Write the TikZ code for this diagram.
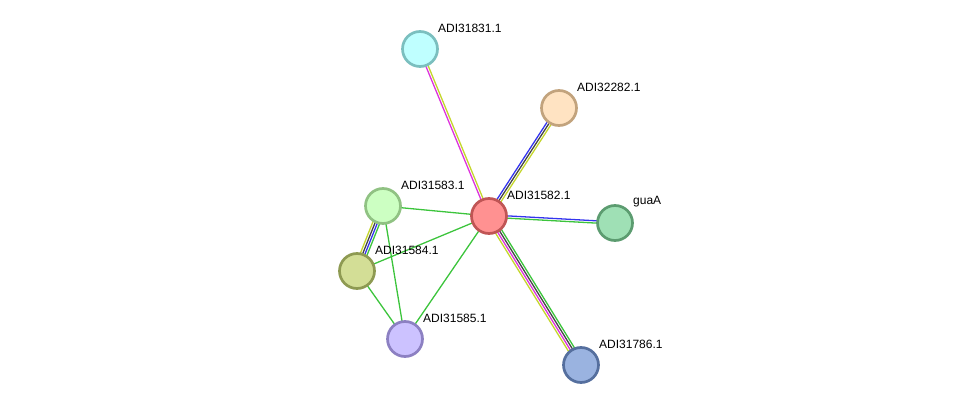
\documentclass[tikz,border=0pt]{standalone}
\usepackage{fontspec}
\setmainfont{Liberation Sans}
\usetikzlibrary{calc,backgrounds}

\definecolor{lnkgreen}{HTML}{3CC43C}
\definecolor{lnkblue}{HTML}{3434EE}
\definecolor{lnkdark}{HTML}{454545}
\definecolor{lnkmagenta}{HTML}{DD33DD}
\definecolor{lnkyellow}{HTML}{C4D62C}

% parallel lines between two proteins, one per evidence colour
\newcommand{\lnk}[3]{%
  \foreach \c [count=\i] in {#3} {\xdef\nlines{\i}}
  \foreach \c [count=\i] in {#3} {
    \pgfmathsetmacro\off{((\nlines+1)/2-\i)*2.3}
    \draw[\c,line width=1.3pt] ($(#1.center)!\off pt!90:(#2.center)$)
      -- ($(#2.center)!\off pt!-90:(#1.center)$);
  }}

\begin{document}
\begin{tikzpicture}[x=1pt,y=-1pt,
    prot/.style={circle,draw,line width=2.7pt,minimum size=35pt,inner sep=0pt},
    lbl/.style={anchor=west,inner sep=0pt,font=\fontsize{12}{14}\selectfont}]

  \useasboundingbox (0,0) rectangle (976,411);

  % Proteins
  \node[prot,fill={rgb,255:red,191;green,255;blue,255},draw={rgb,255:red,123;green,191;blue,191}] (n831) at (420,49) {};
  \node[prot,fill={rgb,255:red,255;green,227;blue,194},draw={rgb,255:red,194;green,163;blue,125}] (n282) at (559,108) {};
  \node[prot,fill={rgb,255:red,255;green,145;blue,145},draw={rgb,255:red,192;green,85;blue,85}] (n582) at (489,216) {};
  \node[prot,fill={rgb,255:red,159;green,224;blue,181},draw={rgb,255:red,92;green,156;blue,112}] (guaA) at (615,223) {};
  \node[prot,fill={rgb,255:red,204;green,255;blue,194},draw={rgb,255:red,144;green,194;blue,131}] (n583) at (383,206) {};
  \node[prot,fill={rgb,255:red,211;green,222;blue,150},draw={rgb,255:red,142;green,154;blue,82}] (n584) at (357,271) {};
  \node[prot,fill={rgb,255:red,204;green,194;blue,255},draw={rgb,255:red,140;green,128;blue,194}] (n585) at (405,339) {};
  \node[prot,fill={rgb,255:red,154;green,179;blue,224},draw={rgb,255:red,85;green,111;blue,158}] (n786) at (581,365) {};

  % Labels
  \node[lbl] (l831) at ($(n831)+(18,-21)$) {ADI31831.1};
  \node[lbl] (l282) at ($(n282)+(18,-21)$) {ADI32282.1};
  \node[lbl] (l582) at ($(n582)+(18,-21)$) {ADI31582.1};
  \node[lbl] (lguaA) at ($(guaA)+(18,-21)$) {guaA};
  \node[lbl] (l583) at ($(n583)+(18,-21)$) {ADI31583.1};
  \node[lbl] (l584) at ($(n584)+(18,-21)$) {ADI31584.1};
  \node[lbl] (l585) at ($(n585)+(18,-21)$) {ADI31585.1};
  \node[lbl] (l786) at ($(n786)+(18,-21)$) {ADI31786.1};

  % Interactions
  \begin{pgfonlayer}{background}
    \lnk{n582}{n831}{lnkmagenta,lnkyellow}
    \lnk{n582}{n282}{lnkblue,lnkdark,lnkyellow}
    \lnk{n582}{guaA}{lnkblue,lnkgreen}
    \lnk{n582}{n786}{lnkgreen,lnkdark,lnkmagenta,lnkyellow}
    \lnk{n582}{n583}{lnkgreen}
    \lnk{n582}{n584}{lnkgreen}
    \lnk{n582}{n585}{lnkgreen}
    \lnk{n583}{n584}{lnkgreen,lnkblue,lnkdark,lnkyellow}
    \lnk{n583}{n585}{lnkgreen}
    \lnk{n584}{n585}{lnkgreen}
  \end{pgfonlayer}

\end{tikzpicture}
\end{document}
